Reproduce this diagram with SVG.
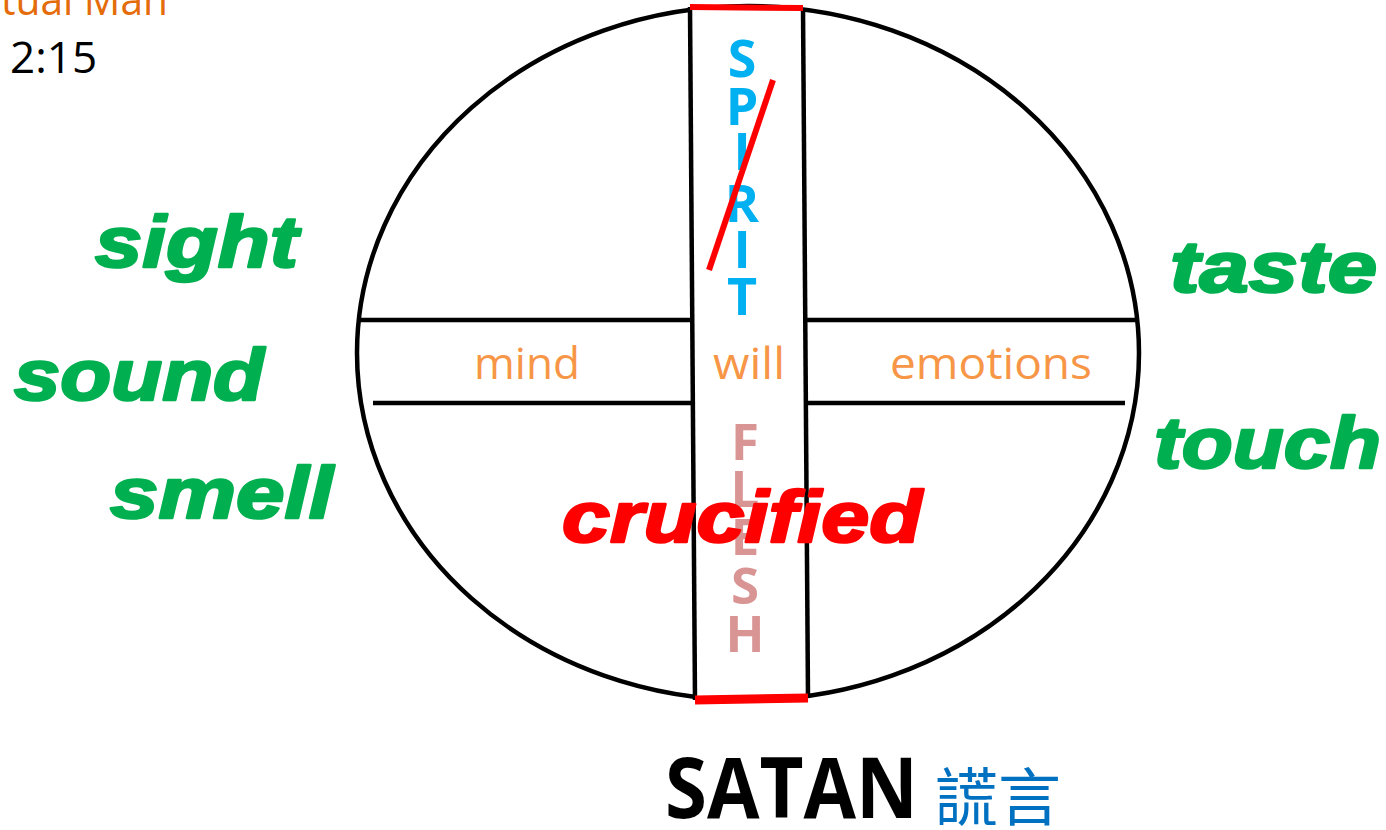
<svg xmlns="http://www.w3.org/2000/svg" width="1386" height="830" viewBox="0 0 1386 830">
<style>
.sense{font-family:"Liberation Sans",Arial,sans-serif;font-weight:bold;font-style:italic;fill:#00B050;stroke:#00B050;stroke-width:2.5;stroke-linejoin:round}
.soul{font-family:"Open Sans",sans-serif;font-size:44px;fill:#F79646}
.spirit{font-family:"Open Sans",sans-serif;font-weight:bold;font-size:52px;fill:#00B0F0;text-anchor:middle}
.flesh{font-family:"Open Sans",sans-serif;font-weight:bold;font-size:51px;fill:#D99594;text-anchor:middle}
.line{stroke:#000;stroke-width:4.5;fill:none}
.red{stroke:#FF0000;fill:none}
</style>
<rect width="1386" height="830" fill="#fff"/>
<g id="header">
<text x="1" y="15" font-family="Open Sans, sans-serif" font-size="44" fill="#E46C0A" textLength="167" lengthAdjust="spacingAndGlyphs">tual Man</text>
<text x="10" y="73" font-family="Open Sans, sans-serif" font-size="44" fill="#000">2:15</text>
</g>
<g id="man">
<ellipse cx="748" cy="353" rx="391" ry="347" class="line"/>
<polygon points="690,7 803,8 808,698 695,700" fill="#fff" stroke="none"/>
<line x1="690" y1="7" x2="695" y2="700" class="line"/>
<line x1="803" y1="8" x2="808" y2="698" class="line"/>
<line x1="360" y1="320" x2="692" y2="320" class="line"/>
<line x1="373" y1="403" x2="692" y2="403" class="line"/>
<line x1="805" y1="320" x2="1138" y2="320" class="line"/>
<line x1="805" y1="403" x2="1125" y2="403" class="line"/>
<line x1="690" y1="7" x2="803" y2="8" class="red" stroke-width="6"/>
<line x1="695" y1="700" x2="808" y2="698" class="red" stroke-width="9"/>
</g>
<g id="spirit">
<text x="742" y="77" class="spirit">S</text>
<text x="742" y="125" class="spirit">P</text>
<text x="742" y="170" class="spirit">I</text>
<text x="742" y="222" class="spirit">R</text>
<text x="742" y="268" class="spirit">I</text>
<text x="742" y="315" class="spirit">T</text>
<line x1="773" y1="80" x2="709" y2="270" class="red" stroke-width="6"/>
</g>
<g id="soul">
<text x="474" y="379" class="soul" textLength="106" lengthAdjust="spacingAndGlyphs">mind</text>
<text x="713" y="379" class="soul" textLength="72" lengthAdjust="spacingAndGlyphs">will</text>
<text x="890" y="379" class="soul" textLength="202" lengthAdjust="spacingAndGlyphs">emotions</text>
</g>
<g id="flesh">
<text x="745" y="460" class="flesh">F</text>
<text x="745" y="507" class="flesh">L</text>
<text x="745" y="555" class="flesh">E</text>
<text x="745" y="604" class="flesh">S</text>
<text x="745" y="652" class="flesh">H</text>
</g>
<g id="crucified">
<text x="562" y="542" font-family="Liberation Sans, Arial, sans-serif" font-weight="bold" font-style="italic" font-size="72" fill="#FF0000" stroke="#FF0000" stroke-width="2.5" stroke-linejoin="round" textLength="360" lengthAdjust="spacingAndGlyphs">crucified</text>
</g>
<g id="senses">
<text x="95" y="267" class="sense" font-size="72" textLength="203" lengthAdjust="spacingAndGlyphs">sight</text>
<text x="14" y="400" class="sense" font-size="72" textLength="250" lengthAdjust="spacingAndGlyphs">sound</text>
<text x="110" y="518" class="sense" font-size="72" textLength="223" lengthAdjust="spacingAndGlyphs">smell</text>
<text x="1170" y="292" class="sense" font-size="72" textLength="207" lengthAdjust="spacingAndGlyphs">taste</text>
<text x="1154" y="468" class="sense" font-size="72" textLength="227" lengthAdjust="spacingAndGlyphs">touch</text>
</g>
<g id="satan">
<text x="665" y="818" font-family="Open Sans, sans-serif" font-weight="bold" font-size="85" fill="#000" textLength="253" lengthAdjust="spacingAndGlyphs">SATAN</text>
<text x="935" y="820" font-family="Noto Sans CJK TC, sans-serif" font-size="63" fill="#0070C0">謊言</text>
</g>
</svg>
